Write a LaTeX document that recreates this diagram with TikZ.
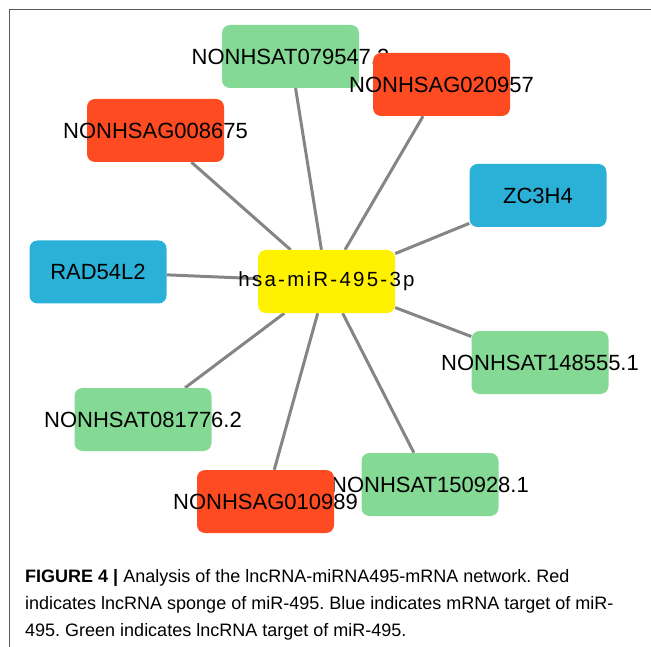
\documentclass[tikz,border=0pt]{standalone}
\usepackage{fontspec}
\setmainfont{Liberation Sans}
\usetikzlibrary{positioning,backgrounds}
\definecolor{SpongeRed}{HTML}{FF4B22}
\definecolor{TargetGreen}{HTML}{84D995}
\definecolor{MrnaBlue}{HTML}{2BB1D8}
\definecolor{EdgeGray}{HTML}{858585}
\definecolor{FrameGray}{HTML}{5A5A5A}
\newcommand{\geneLabel}[1]{\makebox[0pt]{#1}}
\frenchspacing

\begin{document}
\begin{tikzpicture}[x=1pt,y=-1pt,
    genebox/.style={rounded corners=8pt, minimum width=137pt, minimum height=63pt,
      inner sep=0pt, font=\fontsize{22}{22}\selectfont},
    sponge/.style={genebox, fill=SpongeRed},
    mrna/.style={genebox, fill=MrnaBlue},
    target/.style={genebox, fill=TargetGreen},
    mirna/.style={genebox, fill=yellow, font=\fontsize{20.5}{20.5}\selectfont\addfontfeature{LetterSpace=11}},
    netedge/.style={draw=EdgeGray, line width=3pt}]
  \useasboundingbox (0,0) rectangle (651,647);
  % frame
  \draw[FrameGray, line width=1pt] (651,9.5) -- (9.5,9.5) -- (9.5,647);

  % nodes of the network
  \node[mirna] (mir) at (326.5,281.5) {\geneLabel{hsa-miR-495-3p}};
  \node[target] (t079547) at (290.5,56.5) {\geneLabel{NONHSAT079547.2}};
  \node[sponge] (s020957) at (441.5,84.5) {\geneLabel{NONHSAG020957}};
  \node[sponge] (s008675) at (155.5,130.5) {\geneLabel{NONHSAG008675}};
  \node[mrna] (zc3h4) at (538,195.5) {\geneLabel{ZC3H4}};
  \node[mrna] (rad54l2) at (98,272) {\geneLabel{RAD54L2}};
  \node[target] (t148555) at (540,362.5) {\geneLabel{NONHSAT148555.1}};
  \node[target] (t081776) at (143,419.5) {\geneLabel{NONHSAT081776.2}};
  \node[target] (t150928) at (430,484.5) {\geneLabel{NONHSAT150928.1}};
  \node[sponge] (s010989) at (265.5,501.5) {\geneLabel{NONHSAG010989}};

  % edges behind the boxes
  \begin{scope}[on background layer]
    \foreach \gene in {t079547,s020957,s008675,zc3h4,rad54l2,t148555,t081776,t150928,s010989}
      \draw[netedge] (mir) -- (\gene);
  \end{scope}

  % caption
  \node[anchor=north west, align=left, inner sep=0pt,
    font=\fontsize{18}{27}\selectfont] (caption) at (25,569) {%
    \textbf{FIGURE 4 |} Analysis of the lncRNA-miRNA495-mRNA network. Red\\
    indicates lncRNA sponge of miR-495. Blue indicates mRNA target of miR-\\
    495. Green indicates lncRNA target of miR-495.};
\end{tikzpicture}
\end{document}
